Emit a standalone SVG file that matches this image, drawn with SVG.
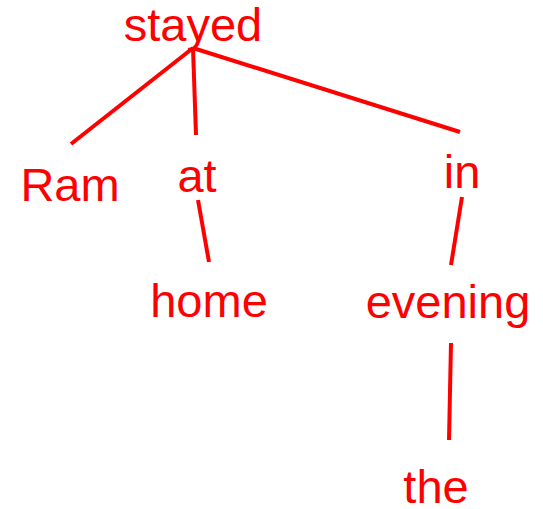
<svg xmlns="http://www.w3.org/2000/svg" width="543" height="509" viewBox="0 0 543 509">
<style>
.lbl{font-family:"Liberation Sans",Arial,sans-serif;font-size:47px;fill:#ff0000;text-anchor:middle}
.edge{stroke:#ff0000;stroke-width:4;fill:none}
</style>
<rect width="543" height="509" fill="#ffffff"/>
<g id="connectors">
<line class="edge" x1="193" y1="48" x2="71" y2="144"/>
<line class="edge" x1="193" y1="48" x2="196" y2="135"/>
<line class="edge" x1="193" y1="48" x2="460" y2="132"/>
<line class="edge" x1="198" y1="200" x2="209" y2="262"/>
<line class="edge" x1="462" y1="197" x2="451" y2="265"/>
<line class="edge" x1="451" y1="343" x2="449" y2="440"/>
</g>
<g id="stayed"><text class="lbl" x="193" y="41">stayed</text></g>
<g id="Ram"><text class="lbl" x="70" y="201">Ram</text></g>
<g id="at"><text class="lbl" x="197" y="192">at</text></g>
<g id="in"><text class="lbl" x="462" y="188">in</text></g>
<g id="home"><text class="lbl" x="209" y="317">home</text></g>
<g id="evening"><text class="lbl" x="448" y="318">evening</text></g>
<g id="the"><text class="lbl" x="436" y="503">the</text></g>
</svg>
